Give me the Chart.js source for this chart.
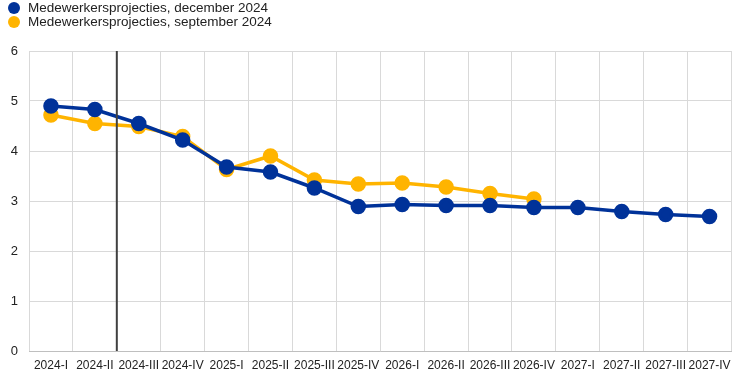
<!DOCTYPE html>
<html>
<head>
<meta charset="utf-8">
<script src="https://cdn.jsdelivr.net/npm/chart.js@4"></script>
<style>
  body { margin: 0; background: #fff; font-family: Arial, "Liberation Sans", sans-serif; }
  #wrap { position: relative; width: 741px; height: 378px; }
  #legend { position: absolute; left: 8px; top: 1px; font-size: 13.5px; color: #222; }
  .item { height: 14px; line-height: 14px; display: flex; align-items: center; }
  .dot { width: 12px; height: 12px; border-radius: 50%; margin-right: 8px; }
</style>
</head>
<body>
<div id="wrap">
  <canvas id="projChart" width="741" height="378"></canvas>
  <div id="legend"></div>
</div>
<script>
// Kwartalen op de x-as
const quarters = ['2024-I', '2024-II', '2024-III', '2024-IV', '2025-I', '2025-II', '2025-III', '2025-IV',
  '2026-I', '2026-II', '2026-III', '2026-IV', '2027-I', '2027-II', '2027-III', '2027-IV'];

const decemberLabel = 'Medewerkersprojecties, december 2024';
const septemberLabel = 'Medewerkersprojecties, september 2024';

const december2024 = [4.90, 4.83, 4.55, 4.22, 3.68, 3.58, 3.26, 2.89, 2.93, 2.91, 2.91, 2.87, 2.87, 2.79, 2.73, 2.69];
const september2024 = [4.72, 4.55, 4.49, 4.29, 3.63, 3.90, 3.42, 3.34, 3.36, 3.28, 3.15, 3.04];

const yTicks = [0, 1, 2, 3, 4, 5, 6];

const blue = '#003299';
const yellow = '#ffb400';

// legenda
const legend = document.getElementById('legend');
[[decemberLabel, blue], [septemberLabel, yellow]].forEach(([label, color]) => {
  const row = document.createElement('div');
  row.className = 'item';
  row.innerHTML = '<span class="dot" style="background:' + color + '"></span><span>' + label + '</span>';
  legend.appendChild(row);
});

// verticale lijn tussen 2024-II en 2024-III
const cutLine = {
  id: 'cutLine',
  afterDatasetsDraw(chart) {
    const x = chart.scales.x.getPixelForValue(1.5);
    const ctx = chart.ctx;
    ctx.save();
    ctx.strokeStyle = '#404040';
    ctx.lineWidth = 2;
    ctx.beginPath();
    ctx.moveTo(x, chart.chartArea.top);
    ctx.lineTo(x, chart.chartArea.bottom);
    ctx.stroke();
    ctx.restore();
  }
};

const ctx = document.getElementById('projChart').getContext('2d');
new Chart(ctx, {
  type: 'line',
  data: {
    labels: quarters,
    datasets: [
      {
        label: decemberLabel,
        data: december2024,
        borderColor: blue,
        backgroundColor: blue,
        borderWidth: 3.5,
        pointRadius: 6,
        pointHoverRadius: 6,
        tension: 0
      },
      {
        label: septemberLabel,
        data: september2024,
        borderColor: yellow,
        backgroundColor: yellow,
        borderWidth: 3.5,
        pointRadius: 6,
        pointHoverRadius: 6,
        tension: 0
      }
    ]
  },
  options: {
    responsive: false,
    animation: false,
    layout: { padding: { top: 51, right: 7, bottom: 0, left: 0 } },
    plugins: {
      legend: { display: false },
      tooltip: { enabled: false }
    },
    scales: {
      x: {
        offset: true,
        grid: { color: '#d9d9d9', drawTicks: false, offset: true },
        border: { color: '#bfbfbf' },
        ticks: {
          autoSkip: false,
          maxRotation: 0,
          minRotation: 0,
          padding: 7,
          color: '#222',
          font: { family: 'Arial, "Liberation Sans"', size: 12 }
        },
        afterFit: s => { s.height = 27; }
      },
      y: {
        min: 0,
        max: 6,
        afterBuildTicks: s => { s.ticks = yTicks.map(v => ({ value: v })); },
        grid: { color: '#d9d9d9', drawTicks: false },
        border: { display: false },
        ticks: {
          padding: 11,
          color: '#222',
          font: { family: 'Arial, "Liberation Sans"', size: 13 }
        },
        afterFit: s => { s.width = 29; }
      }
    }
  },
  plugins: [cutLine]
});
</script>
</body>
</html>
